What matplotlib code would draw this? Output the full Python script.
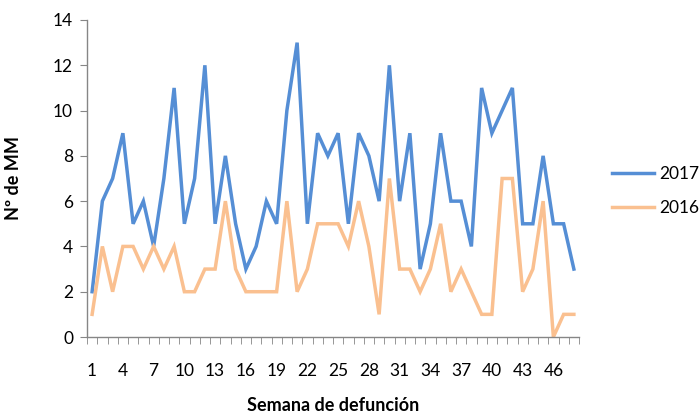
import numpy as np
import matplotlib as mpl
mpl.use("Agg")
import matplotlib.pyplot as plt

weeks = list(range(1, 49))
y2017 = [2, 6, 7, 9, 5, 6, 4, 7, 11, 5,
         7, 12, 5, 8, 5, 3, 4, 6, 5, 10,
         13, 5, 9, 8, 9, 5, 9, 8, 6, 12,
         6, 9, 3, 5, 9, 6, 6, 4, 11, 9,
         10, 11, 5, 5, 8, 5, 5, 3]
y2016 = [1, 4, 2, 4, 4, 3, 4, 3, 4, 2,
         2, 3, 3, 6, 3, 2, 2, 2, 2, 6,
         2, 3, 5, 5, 5, 4, 6, 4, 1, 7,
         3, 3, 2, 3, 5, 2, 3, 2, 1, 1,
         7, 7, 2, 3, 6, 0, 1, 1]
xticks = list(range(1, 47, 3))
yticks = list(range(0, 15, 2))

FS = 12.5
mpl.rcParams.update({
    "font.family": ["Lato", "DejaVu Sans"],
    "font.size": FS,
})

fig = plt.figure(figsize=(6.99, 4.17), dpi=100)
ax = fig.add_axes([87 / 699, 1 - 337 / 417, (579 - 87) / 699, (337 - 20) / 417])

ax.plot(weeks, y2017, color="#558ED5", lw=2.5, label="2017", solid_joinstyle="miter")
ax.plot(weeks, y2016, color="#FAC090", lw=2.5, label="2016", solid_joinstyle="miter")

ax.set_xlim(0.5, 48.5)
ax.set_ylim(0, 14)
ax.set_yticks(yticks)
ax.set_xticks(xticks)
ax.set_xticks(np.arange(0.5, 49, 1), minor=True)
ax.tick_params(axis="x", which="major", length=0, pad=19, labelsize=FS)
ax.tick_params(axis="x", which="minor", length=5, color="#868686", direction="out")
ax.tick_params(axis="y", length=5, color="#868686", direction="out", labelsize=FS, pad=5)

for s in ["top", "right"]:
    ax.spines[s].set_visible(False)
for s in ["left", "bottom"]:
    ax.spines[s].set_color("#868686")
    ax.spines[s].set_linewidth(1.0)

ax.set_xlabel("Semana de defunción", fontweight="bold", fontsize=13, labelpad=13)
ax.set_ylabel("Nº de MM", fontweight="bold", fontsize=13, labelpad=22)

ax.legend(loc="center left", bbox_to_anchor=(1.035, 0.46), frameon=False,
          handlelength=2.4, handletextpad=0.3, labelspacing=1.05, fontsize=FS)

fig.savefig("out.png", dpi=100)
